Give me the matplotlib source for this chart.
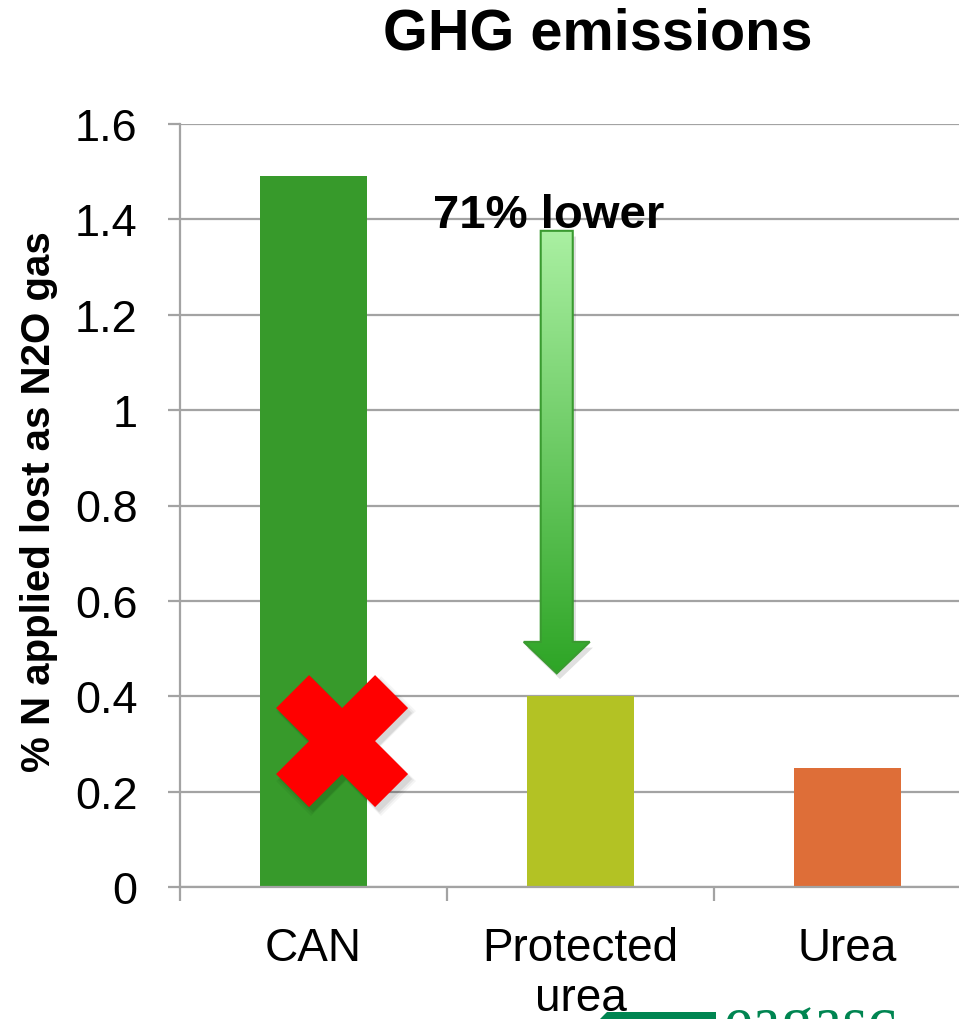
import numpy as np
import matplotlib
matplotlib.use("Agg")
import matplotlib.pyplot as plt
from matplotlib.patches import Polygon
from matplotlib.colors import LinearSegmentedColormap
from matplotlib.transforms import IdentityTransform

# Data
categories = ["CAN", "Protected\nurea", "Urea"]
n2o_loss = [1.49, 0.40, 0.25]
bar_colors = ["#379a2b", "#b3c224", "#de6e38"]
y_ticks = [0, 0.2, 0.4, 0.6, 0.8, 1, 1.2, 1.4, 1.6]
y_tick_labels = ["0", "0.2", "0.4", "0.6", "0.8", "1", "1.2", "1.4", "1.6"]
reduction_label = "71% lower"

GRID = "#a3a3a3"
FONT = ["Liberation Sans", "Arial", "DejaVu Sans"]

fig = plt.figure(figsize=(9.59, 10.2), dpi=100, facecolor="white")
ax = fig.add_axes([180 / 959, 132 / 1020, 801 / 959, 763 / 1020])
ax.set_facecolor("white")

x = np.arange(len(categories))
ax.bar(x, n2o_loss, width=0.4, color=bar_colors, zorder=2)

ax.set_xlim(-0.5, len(categories) - 0.5)
ax.set_ylim(0, 1.6)

# axes styling
for side in ("top", "right"):
    ax.spines[side].set_visible(False)
for side in ("left", "bottom"):
    ax.spines[side].set_color(GRID)
    ax.spines[side].set_linewidth(1.6)
ax.set_axisbelow(True)
ax.yaxis.grid(True, color=GRID, linewidth=1.6)

ax.set_yticks(y_ticks)
ax.set_yticklabels(y_tick_labels, fontsize=32.5, family=FONT)
ax.tick_params(axis="y", direction="out", length=8.6, width=1.6, color=GRID, pad=22)

ax.set_xticks(x)
ax.set_xticklabels(categories, fontsize=33, family=FONT, linespacing=1.18)
ax.set_xticks(np.arange(len(categories) + 1) - 0.5, minor=True)
ax.tick_params(axis="x", which="major", length=0, pad=28)
ax.tick_params(axis="x", which="minor", direction="out", length=10, width=1.6, color=GRID)

# title and axis label
fig.text(597.5 / 959, (1020 - 50) / 1020, "GHG emissions", ha="center", va="baseline",
         fontsize=41.5, fontweight="bold", family=FONT)
fig.text(39 / 959, (1020 - 502) / 1020, "% N applied lost as N2O gas", rotation=90,
         ha="center", va="center", fontsize=29, fontweight="bold", family=FONT)

# gradient arrow showing the reduction
ax_c, shaft_hw, head_hw = 0.911, 0.06, 0.1236
y_top, y_head, y_tip = 1.376, 0.514, 0.448
arrow_xy = [(ax_c - shaft_hw, y_top), (ax_c + shaft_hw, y_top), (ax_c + shaft_hw, y_head),
            (ax_c + head_hw, y_head), (ax_c, y_tip), (ax_c - head_hw, y_head),
            (ax_c - shaft_hw, y_head)]
shadow = Polygon([(px + 0.012, py - 0.012) for px, py in arrow_xy], closed=True,
                 facecolor="#000000", alpha=0.12, edgecolor="none", zorder=3)
ax.add_patch(shadow)
arrow = Polygon(arrow_xy, closed=True, facecolor="none", edgecolor="#3a9b30",
                linewidth=1.5, zorder=5)
ax.add_patch(arrow)
grad_cmap = LinearSegmentedColormap.from_list("arrow_green", ["#2ea526", "#aaf0a2"])
grad = np.linspace(0, 1, 256).reshape(-1, 1)
im = ax.imshow(grad, cmap=grad_cmap, aspect="auto", origin="lower",
               extent=[ax_c - head_hw, ax_c + head_hw, y_tip, y_top], zorder=4,
               interpolation="bilinear")
im.set_clip_path(arrow)
ax.set_xlim(-0.5, len(categories) - 0.5)
ax.set_ylim(0, 1.6)

ax.text(0.882, 1.384, reduction_label, ha="center", va="baseline", fontsize=34,
        fontweight="bold", family=FONT, zorder=6)

# red cross over the CAN bar, with a soft drop shadow
cx, cy = ax.transData.transform((0.107, 0.306))
cross = np.array([(0, 33), (33, 66), (66, 33), (33, 0), (66, -33), (33, -66), (0, -33),
                  (-33, -66), (-66, -33), (-33, 0), (-66, 33), (-33, 66)], dtype=float)
for k, a in enumerate([0.04, 0.05, 0.07]):
    grow = 1.0 + 0.03 * (2 - k)
    fig.patches.append(Polygon(cross * grow + [cx + 4, cy - 5], closed=True,
                               facecolor="black", alpha=a, edgecolor="none",
                               transform=IdentityTransform(), zorder=2))
fig.patches.append(Polygon(cross + [cx, cy], closed=True, facecolor="#ff0000",
                           edgecolor="none", transform=IdentityTransform(), zorder=3))

# logo strip at the bottom edge
logo_green = "#008551"
fig.patches.append(Polygon([(607 / 959, 7 / 1020), (716 / 959, 7 / 1020),
                            (716 / 959, -5 / 1020), (595 / 959, -5 / 1020)],
                           closed=True, facecolor=logo_green, edgecolor="none",
                           transform=fig.transFigure, zorder=-1))
fig.text(723 / 959, -21 / 1020, "eagasc", ha="left", va="baseline", fontsize=47,
         color=logo_green, family=["Liberation Serif", "DejaVu Serif"], zorder=-1)

fig.savefig("out.png", dpi=100, facecolor="white")
